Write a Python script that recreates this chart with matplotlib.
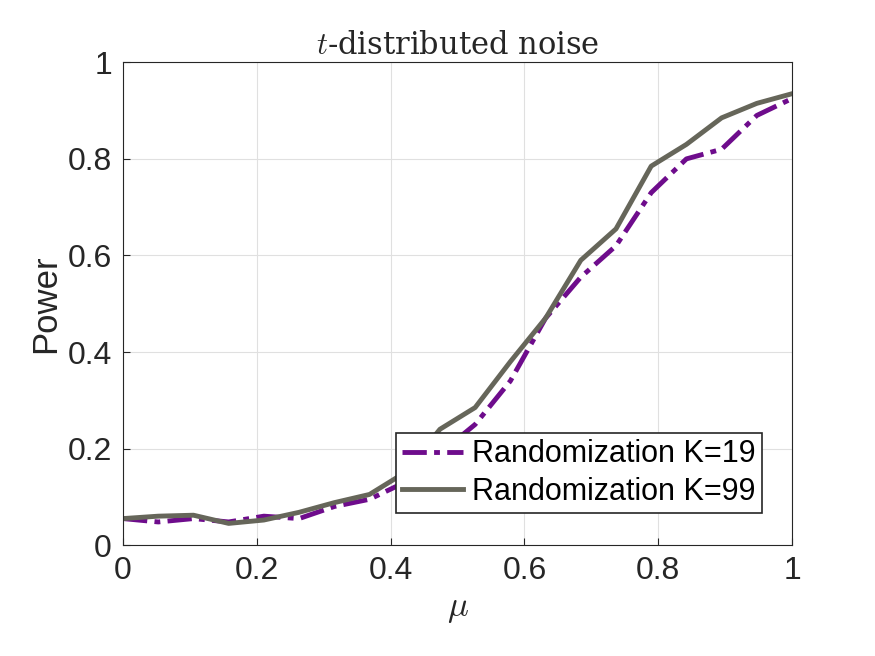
import matplotlib
matplotlib.use("Agg")
import matplotlib.pyplot as plt
import numpy as np

mu = [k/19 for k in range(20)]
power_k19 = [0.055,0.048,0.055,0.048,0.06,0.055,0.08,0.095,0.13,0.19,0.25,0.34,0.47,0.555,0.62,0.73,0.80,0.82,0.89,0.925]
power_k99 = [0.055,0.06,0.062,0.045,0.052,0.068,0.088,0.105,0.15,0.24,0.285,0.38,0.47,0.59,0.655,0.785,0.83,0.885,0.915,0.935]

plt.rcParams['font.family'] = ['Liberation Sans', 'DejaVu Sans']
plt.rcParams['mathtext.fontset'] = 'cm'
fig = plt.figure(figsize=(8.75, 6.56), dpi=100)
ax = fig.add_axes([0.1406, 0.169, 0.7646, 0.736])
ax.plot(mu, power_k19, color='#6E0C8C', lw=3.5, ls=(0, (5, 1.5, 1.2, 1.5)), label='Randomization K=19')
ax.plot(mu, power_k99, color='#66665A', lw=3.5, label='Randomization K=99')
ax.set_xlim(0, 1); ax.set_ylim(0, 1)
ticks = [0, 0.2, 0.4, 0.6, 0.8, 1]
labels = ['0', '0.2', '0.4', '0.6', '0.8', '1']
ax.set_xticks(ticks, labels); ax.set_yticks(ticks, labels)
ax.tick_params(labelsize=23, direction='in', length=5, colors='#262626', pad=8)
ax.grid(True, color='#E0E0E0', lw=0.8)
for s in ax.spines.values():
    s.set_color('#262626'); s.set_linewidth(0.8)
ax.set_xlabel(r'$\mu$', fontsize=25, color='#262626')
ax.set_ylabel('Power', fontsize=25, color='#262626')
ax.set_title(r'$t$-distributed noise', fontsize=22, family='DejaVu Serif', color='#262626')
leg = ax.legend(loc='lower right', bbox_to_anchor=(0.978, 0.035), fontsize=22, frameon=True,
                fancybox=False, edgecolor='#262626', framealpha=1, handlelength=2.0,
                borderpad=0.2, labelspacing=0.25, handletextpad=0.3)
leg.get_frame().set_linewidth(1.2)
fig.savefig('out.png', dpi=100, facecolor='white')
